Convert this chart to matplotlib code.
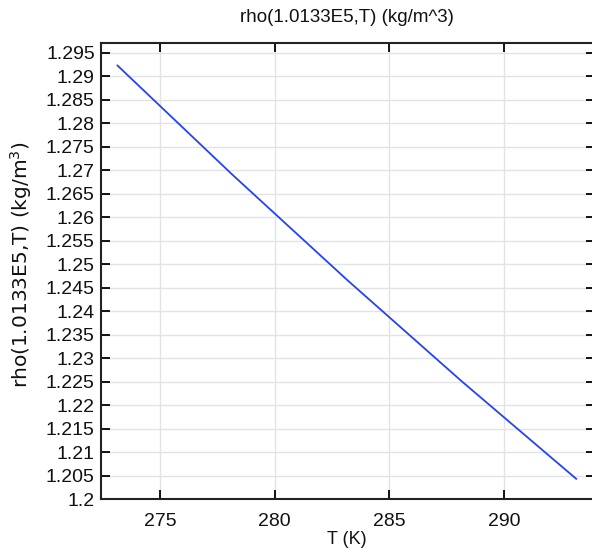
import matplotlib
matplotlib.use("Agg")
import matplotlib.pyplot as plt
import numpy as np

T_K = [273.15, 278.15, 283.15, 288.15, 293.15]
rho = [1.2923, 1.2691, 1.2467, 1.2251, 1.2043]
x_ticks = [275, 280, 285, 290]
y_ticks = [1.2, 1.205, 1.21, 1.215, 1.22, 1.225, 1.23, 1.235, 1.24, 1.245,
           1.25, 1.255, 1.26, 1.265, 1.27, 1.275, 1.28, 1.285, 1.29, 1.295]
y_tick_labels = ["1.2", "1.205", "1.21", "1.215", "1.22", "1.225", "1.23", "1.235",
                 "1.24", "1.245", "1.25", "1.255", "1.26", "1.265", "1.27", "1.275",
                 "1.28", "1.285", "1.29", "1.295"]

plt.rcParams['font.family'] = ['Liberation Sans', 'DejaVu Sans']
fig = plt.figure(figsize=(5.92, 5.54), dpi=100)
W, H = 592, 554
l, r, t, b = 101, 595, 43, 499
ax = fig.add_axes([l / W, (H - b) / H, (r - l) / W, (b - t) / H])

ax.plot(T_K, rho, color='#2545e8', lw=1.3)
ax.set_xlim(272.43, 293.97)
ax.set_ylim(1.2, 1.2971)
ax.set_xticks(x_ticks)
ax.set_xticklabels([str(v) for v in x_ticks])
ax.set_yticks(y_ticks)
ax.set_yticklabels(y_tick_labels)
ax.grid(True, color='#e3e3e3', lw=1.0)
ax.set_axisbelow(True)
ax.tick_params(direction='in', length=6.5, width=1.3, top=True, right=True,
               labelsize=14, colors='black')
ax.tick_params(axis='y', pad=4.5)
ax.tick_params(axis='x', pad=10)
for lab in ax.get_xticklabels() + ax.get_yticklabels():
    lab.set_color('#111111')
for s in ax.spines.values():
    s.set_linewidth(1.5)
    s.set_color('#222222')

fig.text(347 / W, 1 - 18 / H, "rho(1.0133E5,T) (kg/m^3)", ha='center', va='center',
         fontsize=13.5, color='#111111')
fig.text(347 / W, 1 - 539 / H, "T (K)", ha='center', va='center', fontsize=13,
         color='#111111')
fig.text(21 / W, 1 - 265 / H, "rho(1.0133E5,T) (kg/m$^3$)", ha='center', va='center',
         rotation=90, fontsize=14.5, family=['DejaVu Sans'],
         color='#111111')

fig.savefig("out.png", dpi=100)
